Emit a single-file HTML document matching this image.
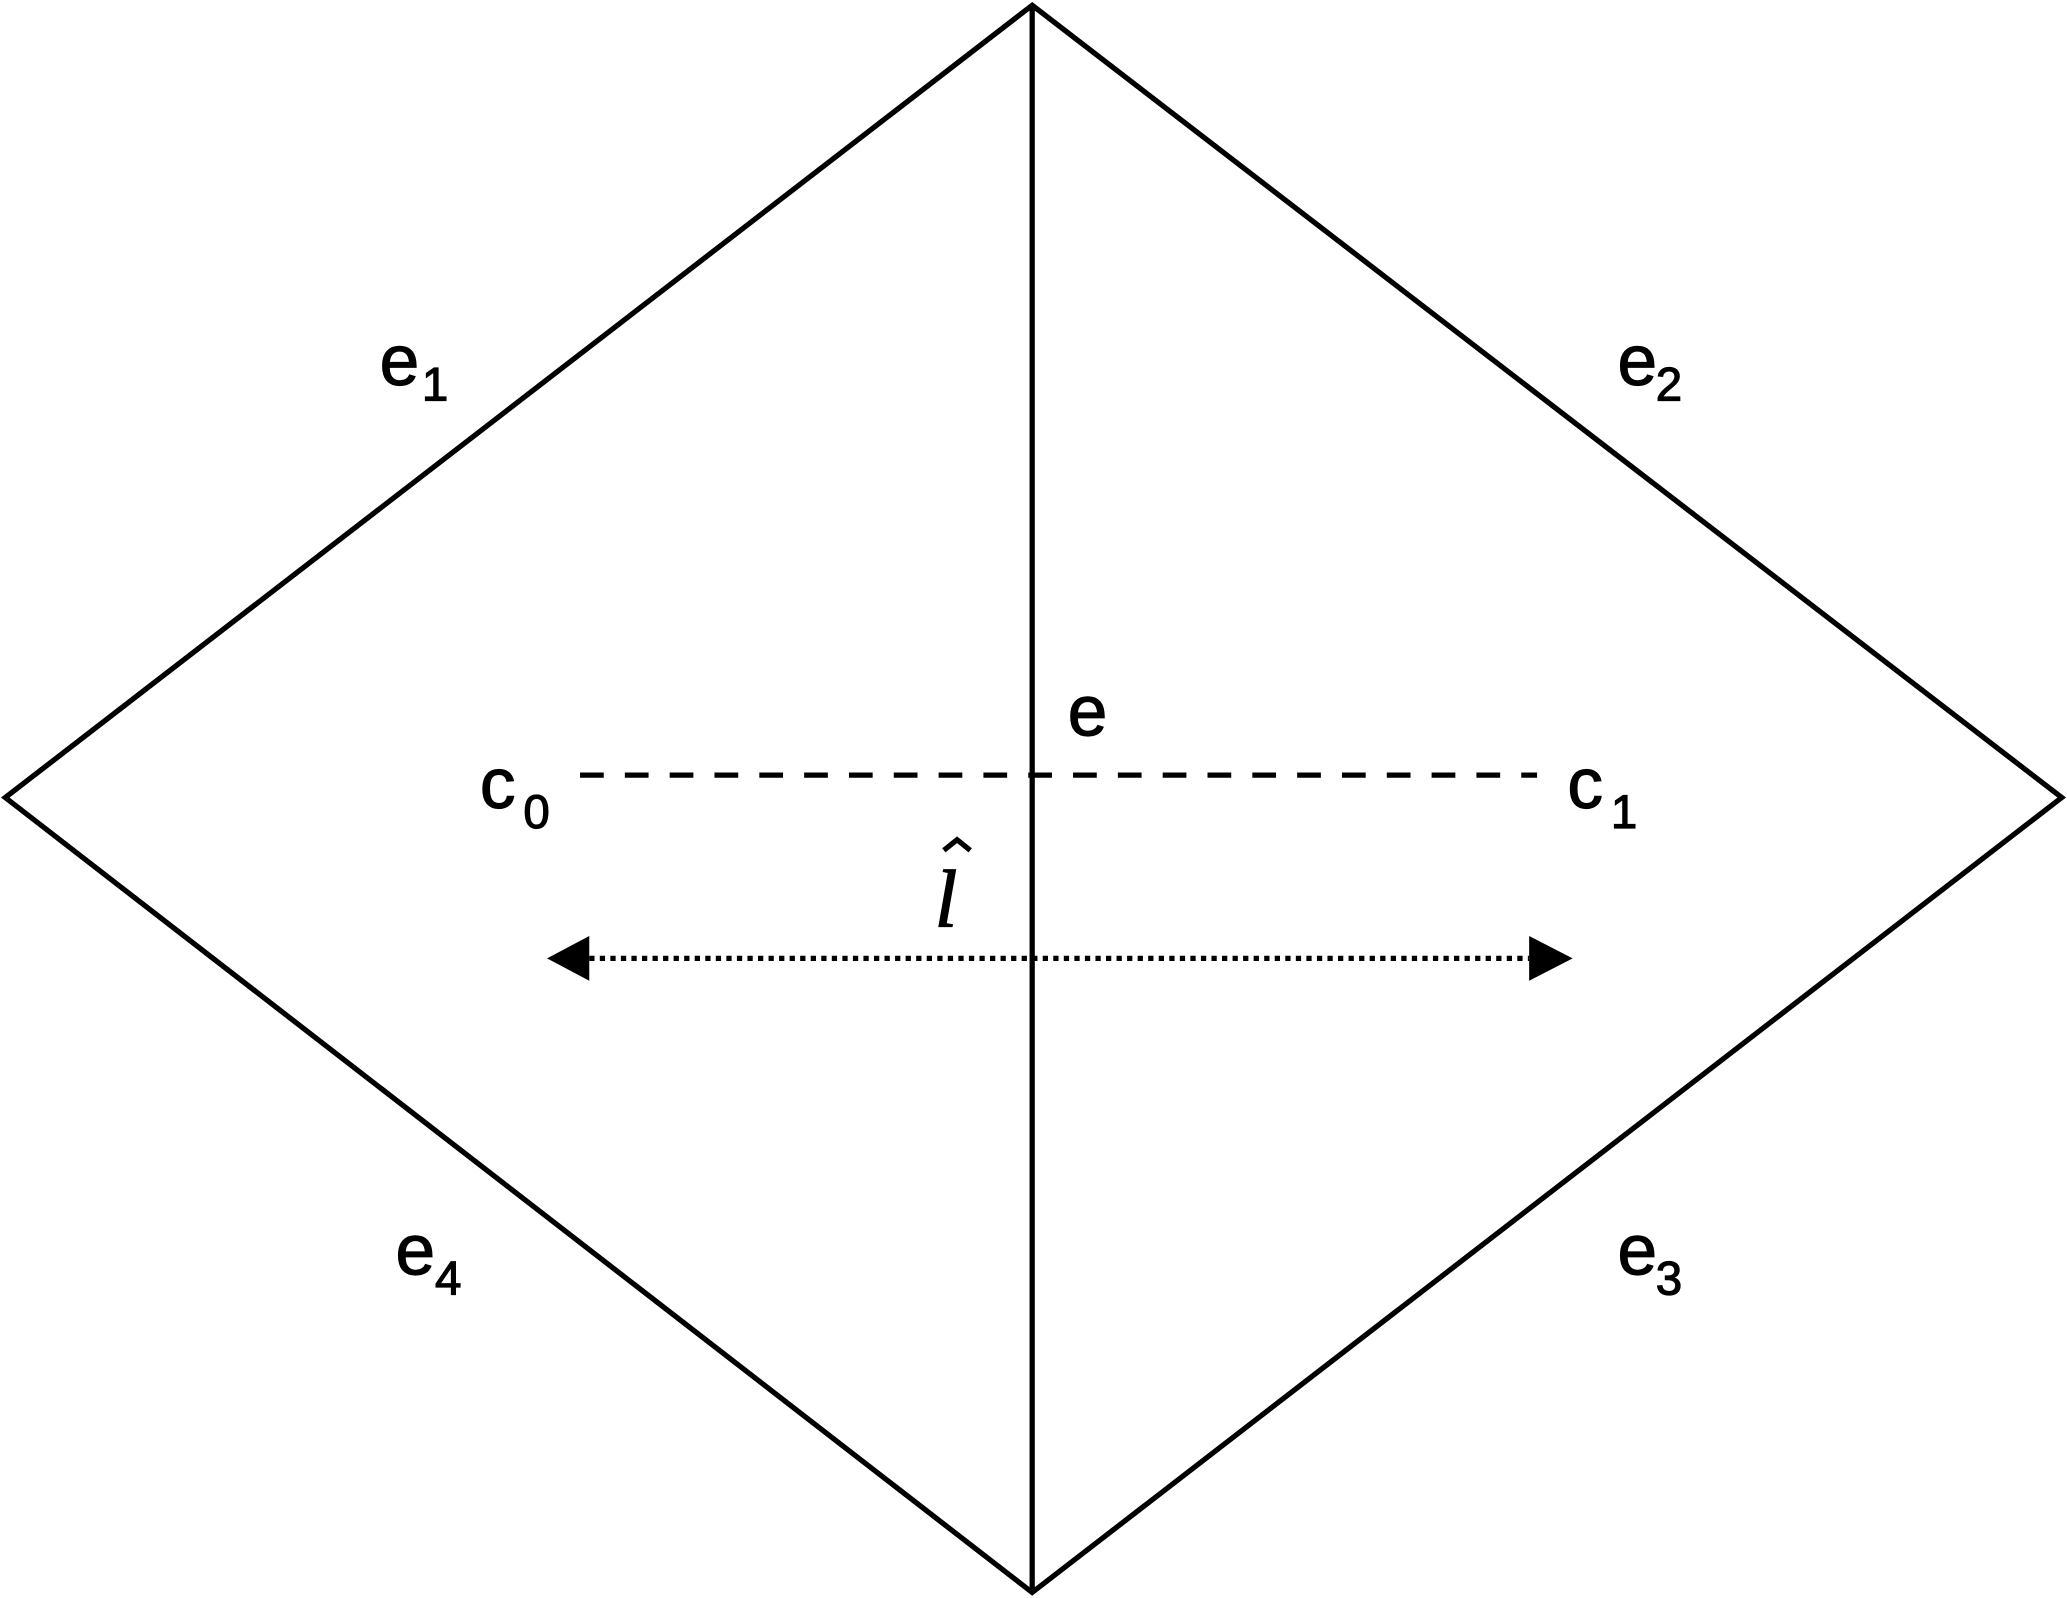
<!DOCTYPE html>
<html><head><meta charset="utf-8"><style>html,body{margin:0;padding:0;background:#fff;}svg{display:block}</style></head>
<body>
<svg width="2067" height="1598" viewBox="0 0 1568 1212.2" preserveAspectRatio="none" xmlns="http://www.w3.org/2000/svg">
<g fill="none" stroke="#000" stroke-width="4">
<polygon points="783,4 1564,605 783,1208 4,605"/>
<line x1="783" y1="4" x2="783" y2="1208"/>
<line x1="440" y1="588" x2="1166" y2="588" stroke-dasharray="18,16"/>
<line x1="447" y1="727" x2="1160" y2="727" stroke-dasharray="4,4" stroke-width="4"/>
</g>
<polygon points="415,727 447,710 447,744" fill="#000"/>
<polygon points="1193,727 1160,710 1160,744" fill="#000"/>
<g font-family="Liberation Sans, sans-serif" fill="#000" stroke="#000" stroke-width="0.9">
<text x="288" y="292" font-size="54">e</text><text x="320" y="304" font-size="36">1</text>
<text x="1227" y="292" font-size="54">e</text><text x="1256" y="304" font-size="36">2</text>
<text x="810" y="558" font-size="54">e</text>
<text x="364" y="613" font-size="54">c</text><text x="397" y="628" font-size="36">0</text>
<text x="1189" y="613" font-size="54">c</text><text x="1222" y="628" font-size="36">1</text>
<text x="300" y="967" font-size="54">e</text><text x="330" y="982" font-size="36">4</text>
<text x="1227" y="967" font-size="54">e</text><text x="1256" y="982" font-size="36">3</text>
<text x="709" y="703" font-size="62" font-family="Liberation Serif, serif" font-style="italic">l</text>
</g>
<polyline points="716,645 726,637 736,645" fill="none" stroke="#000" stroke-width="4"/>
</svg>
</body></html>
